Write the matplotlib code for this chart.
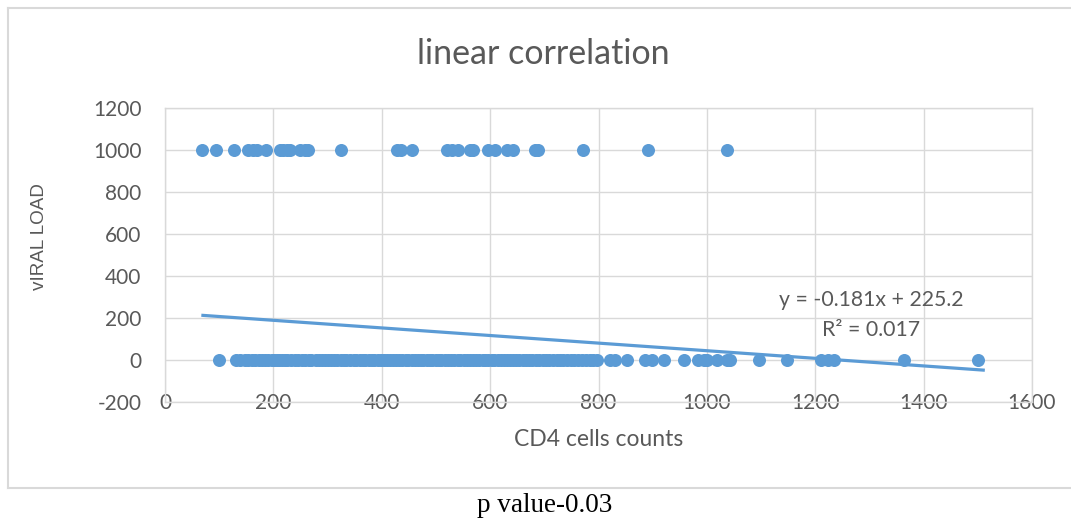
import matplotlib
matplotlib.use("Agg")
import matplotlib.pyplot as plt
import matplotlib.lines as mlines
import numpy as np

plt.rcParams['axes.unicode_minus'] = False

# CD4 counts of patients with viral load 1000
cd4_high = [68, 94, 127, 153, 162, 170, 186, 212, 218, 225, 230, 249, 258, 264,
            325, 428, 436, 456, 520, 530, 541, 563, 568, 596, 609, 631, 642,
            683, 688, 771, 891, 1037]
vl_high = [1000] * len(cd4_high)

# CD4 counts of patients with viral load 0
cd4_low = [100, 131, 139, 147, 154, 161, 166, 173, 179, 184, 191, 197, 201, 206,
           211, 215, 221, 226, 232, 240, 246, 253, 259, 266, 270, 278, 284, 289,
           295, 301, 307, 311, 318, 324, 330, 334, 341, 348, 352, 359, 365, 369,
           376, 382, 386, 393, 399, 405, 409, 416, 421, 427, 431, 438, 444, 448,
           455, 461, 466, 472, 476, 483, 489, 493, 500, 506, 510, 517, 523, 527,
           534, 540, 545, 551, 557, 563, 568, 574, 580, 586, 591, 597, 603, 608,
           614, 620, 625, 631, 637, 643, 648, 654, 660, 666, 672, 678, 684, 691,
           697, 704, 709, 716, 723, 729, 735, 742, 749, 755, 763, 770, 777, 784,
           790, 797, 822, 830, 853, 886, 898, 920, 957, 983, 994, 1000, 1019,
           1038, 1043, 1097, 1147, 1210, 1223, 1234, 1363, 1500]
vl_low = [0] * len(cd4_low)

# excel trendline
slope = -0.181
intercept = 225.2
trend_x = [70, 1510]

x_ticks = [0, 200, 400, 600, 800, 1000, 1200, 1400, 1600]
y_ticks = [-200, 0, 200, 400, 600, 800, 1000, 1200]

W, H = 1071, 521
blue = '#5B9BD5'
grey_txt = '#595959'
grid_c = '#d9d9d9'

fig = plt.figure(figsize=(W / 100, H / 100), dpi=100)
ax = fig.add_axes([165 / W, 1 - 402 / H, (1032 - 165) / W, (402 - 108) / H])

ax.scatter(cd4_high, vl_high, s=88, color=blue, zorder=3, linewidths=0)
ax.scatter(cd4_low, vl_low, s=88, color=blue, zorder=3, linewidths=0)

tx = np.array(trend_x)
ax.plot(tx, slope * tx + intercept, color=blue, lw=2.3, zorder=4)

ax.set_xlim(0, 1600)
ax.set_ylim(-200, 1200)
ax.set_xticks(x_ticks)
ax.set_yticks(y_ticks)
ax.grid(True, color=grid_c, lw=1)
ax.set_axisbelow(True)
for s in ax.spines.values():
    s.set_color(grid_c)
    s.set_linewidth(1)

ax.tick_params(length=0, colors=grey_txt, labelsize=15)
ax.tick_params(axis='y', pad=17)
ax.tick_params(axis='x', pad=1)
for lab in ax.get_xticklabels():
    lab.set_va('center')
for lab in ax.get_xticklabels() + ax.get_yticklabels():
    lab.set_family('Lato')

fig.text(543 / W, 1 - 54 / H, 'linear correlation', ha='center', va='center',
         fontsize=24.5, color=grey_txt, family='Lato')
fig.text(599 / W, 1 - 440 / H, 'CD4 cells counts', ha='center', va='center',
         fontsize=16.5, color=grey_txt, family='Lato')
fig.text(40 / W, 1 - 237 / H, 'vIRAL LOAD', ha='center', va='center', rotation=90,
         fontsize=13.6, color=grey_txt, family='Liberation Sans')
fig.text(871 / W, 1 - 300 / H, 'y = -0.181x + 225.2', ha='center', va='center',
         fontsize=15.3, color=grey_txt, family='Lato')
fig.text(871 / W, 1 - 330 / H, 'R² = 0.017', ha='center', va='center',
         fontsize=15.3, color=grey_txt, family='Lato')
fig.text(545 / W, 1 - 505 / H, 'p value-0.03', ha='center', va='center',
         fontsize=19.5, color='black', family='Liberation Serif')

# chart frame: left, top and bottom only, right edge runs past the picture
x0, y_top, y_bot = 8 / W, 1 - 8 / H, 1 - 488 / H
for xs, ys in [([x0, x0], [y_bot, y_top]), ([x0, 1.0], [y_top, y_top]),
               ([x0, 1.0], [y_bot, y_bot])]:
    fig.add_artist(mlines.Line2D(xs, ys, transform=fig.transFigure,
                                 color=grid_c, lw=1.5))

fig.savefig('out.png', dpi=100)
